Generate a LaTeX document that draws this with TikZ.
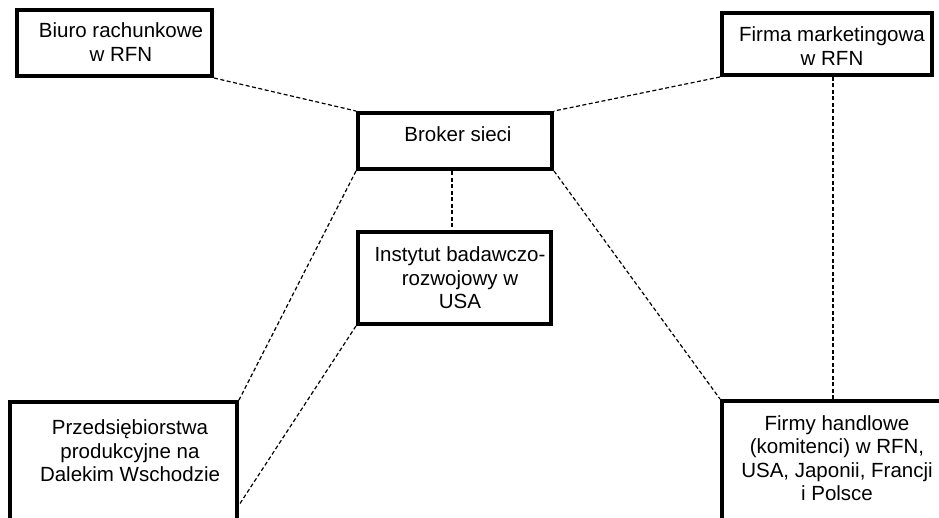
\documentclass[tikz,border=0pt]{standalone}
\usepackage{fontspec}
\setmainfont{Liberation Sans}
\begin{document}
\begin{tikzpicture}[x=1pt,y=-1pt,
  box/.style={draw=black,line width=4pt,fill=white,inner sep=0pt},
  txt/.style={align=center,inner sep=0pt,font=\fontsize{20.5}{23.5}\selectfont},
  link/.style={draw=black,line width=1.2pt,dash pattern=on 4pt off 2.5pt}]
\useasboundingbox (0,0) rectangle (939,517);
% boxes
\node[box,minimum width=195pt,minimum height=66pt] (biuro) at (114.5,43) {};
\node[box,minimum width=210pt,minimum height=62pt] (firma) at (827,44) {};
\node[box,minimum width=194pt,minimum height=56pt] (broker) at (455,141) {};
\node[box,minimum width=193pt,minimum height=92pt] (inst) at (454.5,278) {};
\node[box,minimum width=227pt,minimum height=206pt] (prz) at (123.5,505) {};
\node[box,minimum width=222pt,minimum height=206pt] (firmy) at (833,504) {};
% connectors
\draw[link] (biuro.south east) -- (broker.north west);
\draw[link] (firma.south west) -- (broker.north east);
\draw[link] (broker.south -| 452,0) -- (inst.north -| 452,0);
\draw[link] (broker.south west) -- (prz.north east);
\draw[link] (inst.south west) -- (prz.east);
\draw[link] (broker.south east) -- (firmy.north west);
\draw[link] (firmy.north) -- (firmy.north |- firma.south);
% labels
\node[txt] (tbiuro) at (121,42) {Biuro rachunkowe\\w RFN};
\node[txt] (tfirma) at (832,46) {Firma marketingowa\\w RFN};
\node[txt] (tbroker) at (458,134) {Broker sieci};
\node[txt] (tinst) at (460,278) {Instytut badawczo-\\rozwojowy w\\USA};
\node[txt] (tprz) at (130,451) {Przedsiębiorstwa\\produkcyjne na\\Dalekim Wschodzie};
\node[txt] (tfirmy) at (837,458) {Firmy handlowe\\(komitenci) w RFN,\\USA, Japonii, Francji\\i Polsce};
\end{tikzpicture}
\end{document}
